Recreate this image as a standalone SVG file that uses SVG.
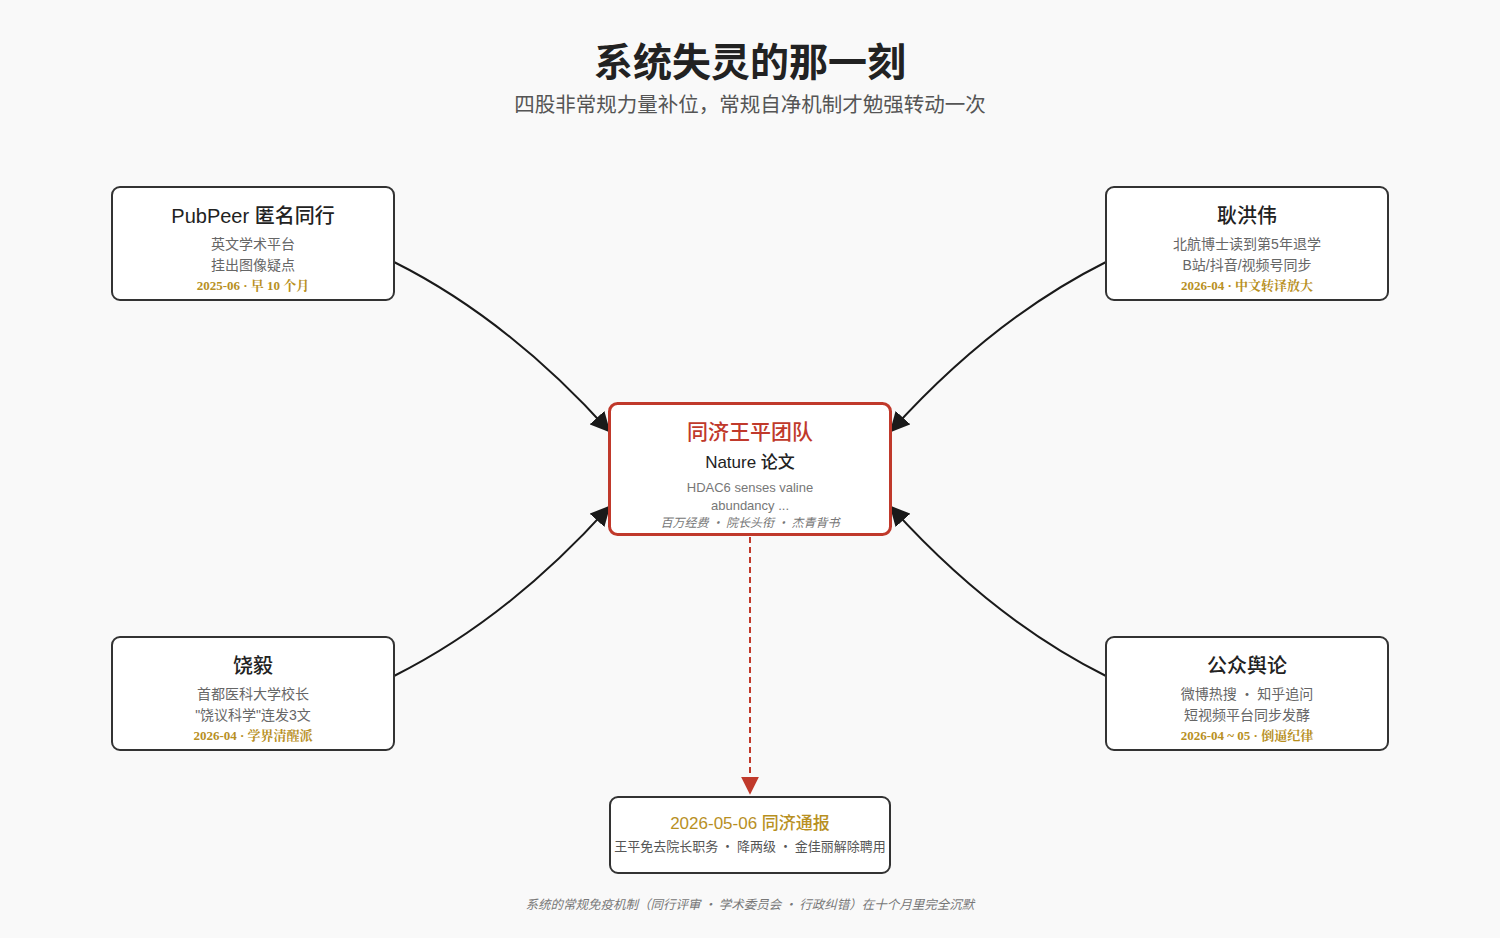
<svg xmlns="http://www.w3.org/2000/svg" width="1500" height="938" viewBox="0 0 1500 938">
<defs>
<marker id="ah" viewBox="0 0 10 10" refX="9" refY="5" markerWidth="20" markerHeight="20" markerUnits="userSpaceOnUse" orient="auto"><path d="M0,0 L10,5 L0,10 z" fill="#1a1a1a"/></marker>
<marker id="ahr" viewBox="0 0 10 10" refX="9" refY="5" markerWidth="18" markerHeight="18" markerUnits="userSpaceOnUse" orient="auto"><path d="M0,0 L10,5 L0,10 z" fill="#c0392b"/></marker>
<style>
text{font-family:"Liberation Sans","Noto Sans CJK SC",sans-serif;text-anchor:middle}
.cd{font-family:"Noto Sans CJK SC",sans-serif}
.box{fill:#fff;stroke:#333;stroke-width:2}
.hd{font-size:20px;fill:#222;font-weight:500}
.sub{font-size:14px;fill:#666}
.dt{font-family:"Liberation Serif","Noto Serif CJK SC","Noto Sans CJK SC",serif;font-size:13px;fill:#b8901f;font-weight:bold}
.conn{fill:none;stroke:#1a1a1a;stroke-width:2;marker-end:url(#ah)}
.it{font-size:12.5px;fill:#777;font-style:italic}
</style>
</defs>
<rect width="1500" height="938" fill="#f9f9f9"/>
<text x="750" y="76" font-size="39" font-weight="bold" fill="#222">系统失灵的那一刻</text>
<text x="750" y="112" font-size="20.5" fill="#555">四股非常规力量补位，常规自净机制才勉强转动一次</text>

<g id="connectors">
<path class="conn" d="M394,262 Q508,319 609,431"/>
<path class="conn" d="M1106,262 Q992,319 891,431"/>
<path class="conn" d="M394,676 Q508,619 609,507"/>
<path class="conn" d="M1106,676 Q992,619 891,507"/>
<path d="M750,537 L750,793" fill="none" stroke="#c0392b" stroke-width="2" stroke-dasharray="6,4" marker-end="url(#ahr)"/>
</g>

<g id="pubpeer">
<rect class="box" x="112" y="187" width="282" height="113" rx="8"/>
<text class="hd" x="253" y="223">PubPeer 匿名同行</text>
<text class="sub" x="253" y="249">英文学术平台</text>
<text class="sub" x="253" y="270">挂出图像疑点</text>
<text class="dt" x="253" y="290">2025-06 · 早 10 个月</text>
</g>

<g id="genghongwei">
<rect class="box" x="1106" y="187" width="282" height="113" rx="8"/>
<text class="hd" x="1247" y="223">耿洪伟</text>
<text class="sub" x="1247" y="249">北航博士读到第5年退学</text>
<text class="sub" x="1247" y="270">B站/抖音/视频号同步</text>
<text class="dt" x="1247" y="290">2026-04 · 中文转译放大</text>
</g>

<g id="raoyi">
<rect class="box" x="112" y="637" width="282" height="113" rx="8"/>
<text class="hd" x="253" y="673">饶毅</text>
<text class="sub" x="253" y="699">首都医科大学校长</text>
<text class="sub" x="253" y="720">"饶议科学"连发3文</text>
<text class="dt" x="253" y="740">2026-04 · 学界清醒派</text>
</g>

<g id="public">
<rect class="box" x="1106" y="637" width="282" height="113" rx="8"/>
<text class="hd" x="1247" y="673">公众舆论</text>
<text class="sub" x="1247" y="699">微博热搜<tspan class="cd"> · </tspan>知乎追问</text>
<text class="sub" x="1247" y="720">短视频平台同步发酵</text>
<text class="dt" x="1247" y="740">2026-04 ~ 05 · 倒逼纪律</text>
</g>

<g id="center">
<rect x="609.5" y="403.5" width="281" height="131" rx="8" fill="#fff" stroke="#c0392b" stroke-width="3"/>
<text x="750" y="439" font-size="21" fill="#c0392b" font-weight="500">同济王平团队</text>
<text x="750" y="468" font-size="17" fill="#222" font-weight="500">Nature 论文</text>
<text x="750" y="492" font-size="13" fill="#777">HDAC6 senses valine</text>
<text x="750" y="510" font-size="13" fill="#777">abundancy ...</text>
<text class="it" x="750" y="527" style="font-size:12px">百万经费<tspan class="cd"> · </tspan>院长头衔<tspan class="cd"> · </tspan>杰青背书</text>
</g>

<g id="tongji">
<rect class="box" x="610" y="797" width="280" height="76" rx="8"/>
<text x="750" y="829" font-size="17" fill="#b8901f" font-weight="500">2026-05-06 同济通报</text>
<text x="750" y="851" font-size="13" fill="#555">王平免去院长职务<tspan class="cd"> · </tspan>降两级<tspan class="cd"> · </tspan>金佳丽解除聘用</text>
</g>

<text class="it" x="750" y="909">系统的常规免疫机制（同行评审<tspan class="cd"> · </tspan>学术委员会<tspan class="cd"> · </tspan>行政纠错）在十个月里完全沉默</text>
</svg>
